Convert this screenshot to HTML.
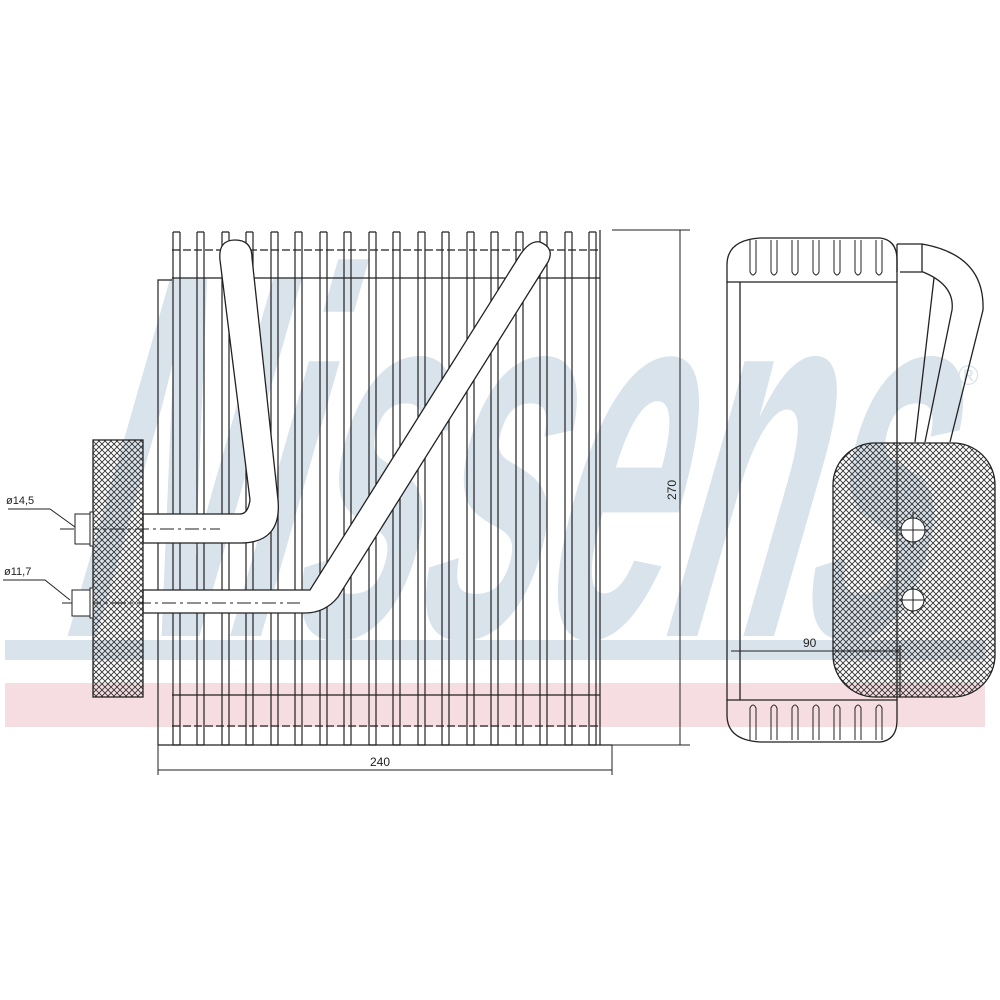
<!DOCTYPE html>
<html><head><style>body{margin:0;background:#fff}svg{display:block}</style></head><body>
<svg width="1000" height="1000" viewBox="0 0 1000 1000" xmlns="http://www.w3.org/2000/svg" font-family="Liberation Sans, sans-serif">
<defs>
<pattern id="h" width="6" height="6" patternUnits="userSpaceOnUse">
<path d="M0,0L6,6M6,0L0,6" stroke="#333" stroke-width="0.9"/>
</pattern>
</defs>
<!-- watermark -->
<rect x="5" y="640" width="980" height="20" fill="#d8e3ec"/>
<rect x="5" y="683" width="980" height="44" fill="#f6dde2"/>
<g transform="skewX(-16)">
<text x="235" y="636" font-size="520" font-weight="bold" fill="#d8e3ec" textLength="860" lengthAdjust="spacingAndGlyphs" font-family="Liberation Sans, sans-serif">Nissens</text>
</g>
<text x="958" y="385" font-size="28" fill="#d8e3ec">®</text>

<g fill="none" stroke="#222" stroke-width="1.2">
<path d="M158,745V280H172M158,745H612"/>
<line x1="600" y1="230" x2="600" y2="745"/>
<line x1="172" y1="278" x2="600" y2="278"/>
<line x1="172" y1="695" x2="600" y2="695"/>
<line x1="172" y1="250" x2="600" y2="250" stroke-dasharray="8,3"/>
<line x1="172" y1="726" x2="600" y2="726" stroke-dasharray="8,3"/>
</g>
<g stroke="#222" stroke-width="1.2" fill="none">
<path d="M173,232V745M180,232V745M197,232V745M204,232V745M222,232V745M229,232V745M246,232V745M253,232V745M271,232V745M278,232V745M295,232V745M302,232V745M320,232V745M327,232V745M344,232V745M351,232V745M369,232V745M376,232V745M393,232V745M400,232V745M418,232V745M425,232V745M442,232V745M449,232V745M467,232V745M474,232V745M491,232V745M498,232V745M516,232V745M523,232V745M540,232V745M547,232V745M565,232V745M572,232V745M589,232V745M596,232V745"/>
<path d="M173,232H180M197,232H204M222,232H229M246,232H253M271,232H278M295,232H302M320,232H327M344,232H351M369,232H376M393,232H400M418,232H425M442,232H449M467,232H474M491,232H498M516,232H523M540,232H547M565,232H572M589,232H596"/>
<path d="M173,745H180M197,745H204M222,745H229M246,745H253M271,745H278M295,745H302M320,745H327M344,745H351M369,745H376M393,745H400M418,745H425M442,745H449M467,745H474M491,745H498M516,745H523M540,745H547M565,745H572M589,745H596"/>
</g>
<g stroke="#222" stroke-width="1.3" fill="#fff">
<path d="M143,514H240Q248,514 250,500L220,260Q218,240 235,240Q252,240 252,258L278,500Q282,543 240,543H143Z"/>
<path d="M143,590H310L520,255Q530,240 540,242Q555,248 548,262L338,597Q325,613 305,613H143Z"/>
</g>
<g stroke="#222" stroke-width="1" stroke-dasharray="14,4,3,4"><line x1="60" y1="529" x2="220" y2="529"/><line x1="62" y1="603" x2="300" y2="603"/></g>
<rect x="93" y="440" width="50" height="257" fill="url(#h)" stroke="#222" stroke-width="1.3"/>
<rect x="75" y="514" width="15" height="30" fill="#fff" stroke="#222"/>
<rect x="72" y="590" width="18" height="26" fill="#fff" stroke="#222"/>
<rect x="90" y="512" width="3" height="34" fill="#fff" stroke="#222"/>
<rect x="90" y="588" width="3" height="30" fill="#fff" stroke="#222"/>
<g stroke="#222" fill="none"><path d="M8,509H50L75,527M3,580H45L70,600"/></g>
<text x="6" y="504" font-size="11" fill="#222">ø14,5</text>
<text x="4" y="575" font-size="11" fill="#222">ø11,7</text>
<g stroke="#222" fill="none" stroke-width="1">
<line x1="612" y1="230" x2="690" y2="230"/><line x1="612" y1="745" x2="690" y2="745"/>
<line x1="680" y1="230" x2="680" y2="745"/>
<line x1="158" y1="745" x2="158" y2="775"/><line x1="612" y1="745" x2="612" y2="775"/>
<line x1="158" y1="770" x2="612" y2="770"/>
</g>
<text x="370" y="766" font-size="12" fill="#222">240</text>
<text x="676" y="500" font-size="12" fill="#222" transform="rotate(-90 676 500)">270</text>
<g stroke="#222" stroke-width="1.3" fill="none">
<path d="M740,282V700M897,282V700"/>
<path d="M727,282V265Q727,240 760,238H880Q897,240 897,260V282Z"/>
<path d="M727,700V715Q727,740 760,742H880Q897,740 897,720V700Z"/>
<line x1="727" y1="282" x2="727" y2="700"/>
<path d="M897,244H922Q985,255 983,310L950,442M900,272H923Q955,285 952,310L925,442M934,278L915,442M897,244V272M922,244V272"/>
</g>
<g stroke="#222" stroke-width="1" fill="none">
<path d="M750,240V272Q753,278 756,272V240M771,240V272Q774,278 777,272V240M792,240V272Q795,278 798,272V240M813,240V272Q816,278 819,272V240M834,240V272Q837,278 840,272V240M855,240V272Q858,278 861,272V240M876,240V272Q879,278 882,272V240"/>
<path d="M750,740V708Q753,702 756,708V740M771,740V708Q774,702 777,708V740M792,740V708Q795,702 798,708V740M813,740V708Q816,702 819,708V740M834,740V708Q837,702 840,708V740M855,740V708Q858,702 861,708V740M876,740V708Q879,702 882,708V740"/>
</g>
<rect x="833" y="443" width="162" height="254" rx="42" fill="url(#h)" stroke="#222" stroke-width="1.3"/>
<circle cx="913" cy="530" r="12" fill="#fff" stroke="#222"/>
<circle cx="913" cy="600" r="11" fill="#fff" stroke="#222"/>
<g stroke="#222"><path d="M898,530H928M913,512V548M900,600H926M913,586V614"/></g>
<g stroke="#222" fill="none"><line x1="731" y1="651" x2="900" y2="651"/><line x1="900" y1="645" x2="900" y2="697"/></g>
<text x="803" y="647" font-size="12" fill="#222">90</text>
</svg>
</body></html>
